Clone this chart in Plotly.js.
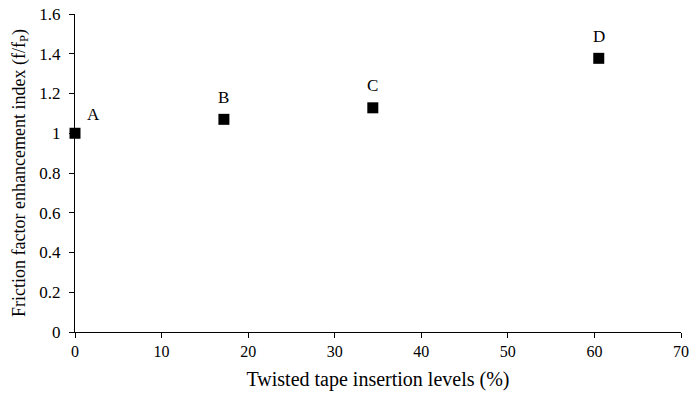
<!DOCTYPE html>
<html>
<head>
<meta charset="utf-8">
<script src="https://cdn.plot.ly/plotly-3.0.1.min.js"></script>
<style>html,body{margin:0;padding:0;background:#fff;}#chart{width:689px;height:396px;}</style>
</head>
<body>
<div id="chart"></div>
<script>
const insertionLevels = [0, 17.2, 34.4, 60.5];
const frictionIndex = [1.0, 1.07, 1.128, 1.377];
const pointLabels = ['A', 'B', 'C', 'D'];
const xTicks = [0, 10, 20, 30, 40, 50, 60, 70];
const yTicks = [0, 0.2, 0.4, 0.6, 0.8, 1, 1.2, 1.4, 1.6];

const font = {family: '"Liberation Serif", "Times New Roman", serif', color: '#000'};
const f = s => Object.assign({}, font, {size: s});

const trace = {
  x: insertionLevels,
  y: frictionIndex,
  mode: 'markers',
  type: 'scatter',
  marker: {symbol: 'square', size: 11, color: '#000'},
  cliponaxis: false,
  showlegend: false,
  hoverinfo: 'x+y'
};

const annotations = pointLabels.map((t, i) => ({
  x: insertionLevels[i], y: frictionIndex[i], xref: 'x', yref: 'y',
  text: t, showarrow: false, font: f(17),
  xshift: i === 0 ? 18 : 0, yshift: i === 0 ? 19 : 22
}));

const layout = {
  width: 689, height: 396,
  margin: {l: 75, r: 8, t: 14, b: 64},
  paper_bgcolor: '#fff', plot_bgcolor: '#fff',
  font: f(16),
  annotations: annotations,
  xaxis: {
    range: [0, 70], tickvals: xTicks, ticktext: xTicks.map(String),
    showgrid: false, zeroline: false, showline: true, linecolor: '#000', linewidth: 1,
    ticks: 'outside', ticklen: 5, tickcolor: '#000', tickfont: f(16),
    title: {text: 'Twisted tape insertion levels (%)', font: f(20), standoff: 12}
  },
  yaxis: {
    range: [0, 1.6], tickvals: yTicks, ticktext: yTicks.map(String),
    showgrid: false, zeroline: false, showline: true, linecolor: '#000', linewidth: 1,
    ticks: 'outside', ticklen: 5, tickcolor: '#000', tickfont: f(17), ticklabelstandoff: 5,
    title: {text: 'Friction factor enhancement index (f/f<sub>P</sub>)', font: f(18), standoff: 9}
  }
};

Plotly.newPlot('chart', [trace], layout, {staticPlot: true, displayModeBar: false});
</script>
</body>
</html>
